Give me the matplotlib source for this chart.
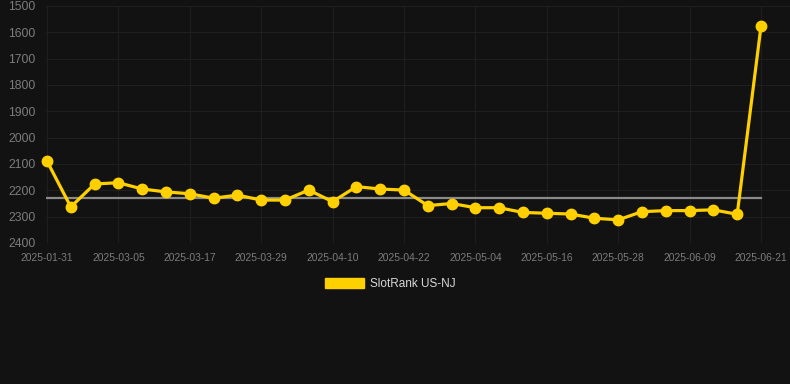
import matplotlib.pyplot as plt
from matplotlib.patches import Patch

# Данные
dates = ["2025-01-31", "2025-02-20", "2025-02-25", "2025-03-05", "2025-03-09", "2025-03-13",
         "2025-03-17", "2025-03-21", "2025-03-25", "2025-03-29", "2025-04-02", "2025-04-06",
         "2025-04-10", "2025-04-14", "2025-04-18", "2025-04-22", "2025-04-26", "2025-04-30",
         "2025-05-04", "2025-05-08", "2025-05-12", "2025-05-16", "2025-05-20", "2025-05-24",
         "2025-05-28", "2025-06-01", "2025-06-05", "2025-06-09", "2025-06-13", "2025-06-17",
         "2025-06-21"]
rank = [2089, 2263, 2176, 2171, 2195, 2206, 2213, 2230, 2218, 2237, 2237, 2199,
        2243, 2186, 2195, 2199, 2258, 2250, 2266, 2266, 2284, 2287, 2290, 2306,
        2312, 2281, 2277, 2277, 2274, 2291, 1577]
average = 2228
y_ticks = [1500, 1600, 1700, 1800, 1900, 2000, 2100, 2200, 2300, 2400]
series_name = "SlotRank US-NJ"

bg = "#121212"
yellow = "#FFD000"
plt.rcParams['font.family'] = ['Liberation Sans', 'DejaVu Sans']

fig = plt.figure(figsize=(7.9, 3.84), dpi=100, facecolor=bg)
ax = fig.add_axes([46 / 790, 141 / 384, 744 / 790, 237 / 384], facecolor=bg)

x = list(range(len(dates)))
ax.plot([x[0], x[-1]], [average, average], color="#8a8a8a", linewidth=1.6, zorder=2)
ax.plot(x, rank, color=yellow, linewidth=2.3, marker="o", markersize=7.5, zorder=3,
        clip_on=False)

ax.set_ylim(2400, 1500)
ax.set_xlim(-1 / 23.8, 30 + 29 / 23.8)
ax.set_yticks(y_ticks)
ax.set_xticks(x[::3])
ax.set_xticklabels(dates[::3])

ax.grid(True, color="#1f1f1f", linewidth=0.8)
ax.set_axisbelow(True)
for s in ax.spines.values():
    s.set_visible(False)
ax.tick_params(axis="y", length=0, labelsize=8.7, labelcolor="#7c7c7c", pad=7.5)
ax.tick_params(axis="x", length=0, labelsize=7.4, labelcolor="#7c7c7c", pad=7.5)

fig.legend(handles=[Patch(facecolor=yellow, edgecolor=yellow)], labels=[series_name],
           loc="center", bbox_to_anchor=(390 / 790, 1 - 284 / 384), frameon=False,
           handlelength=3.3, handleheight=0.9, handletextpad=0.5,
           fontsize=8.5, labelcolor="#d8d8d8")

fig.savefig("out.png", dpi=100, facecolor=bg)
